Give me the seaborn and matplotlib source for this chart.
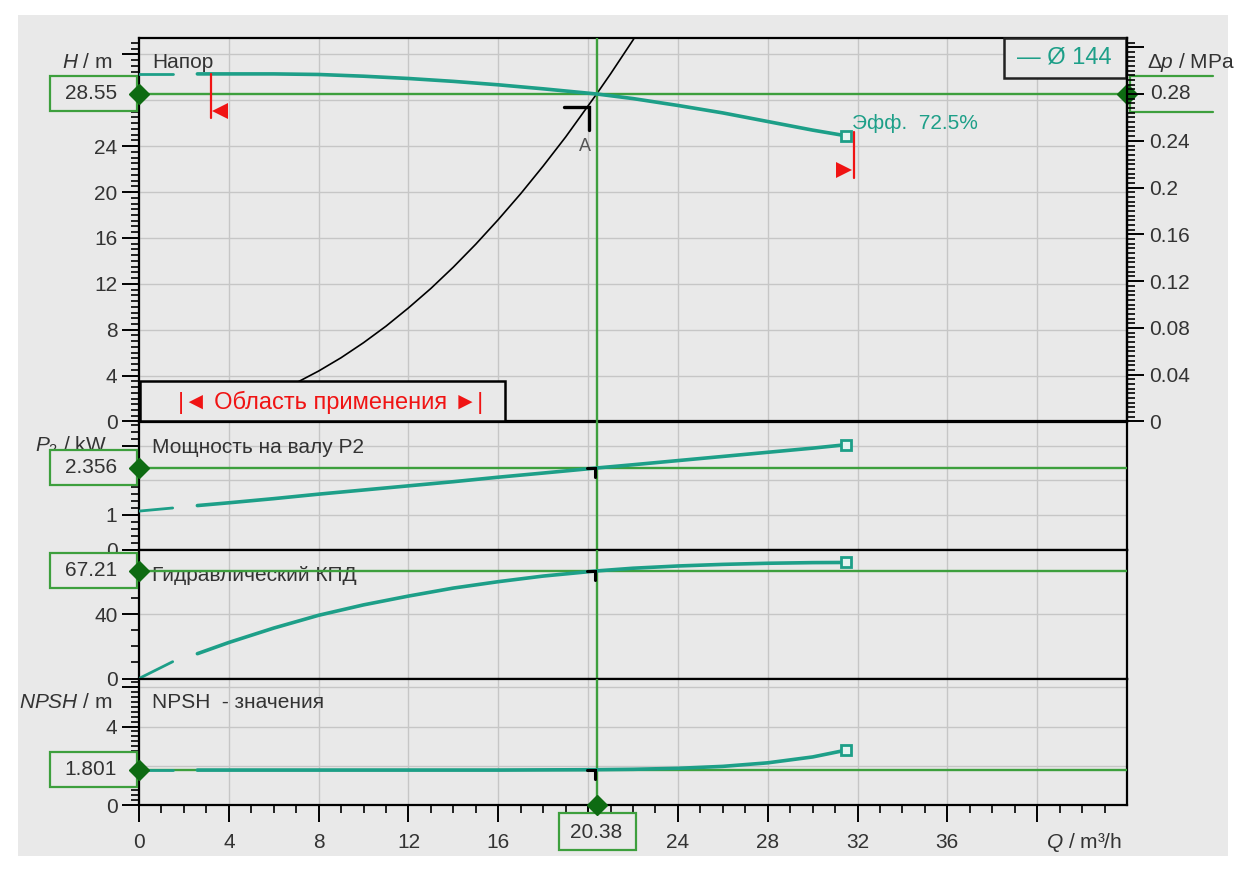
import numpy as np
import pandas as pd
import matplotlib
matplotlib.use("Agg")
import matplotlib.pyplot as plt
import seaborn as sns
from matplotlib.patches import Rectangle
from matplotlib.ticker import FixedLocator, MultipleLocator, FuncFormatter

sns.set_theme(style="white")
plt.rcParams["font.family"] = ["Liberation Sans", "DejaVu Sans"]
plt.rcParams["mathtext.fontset"] = "custom"
plt.rcParams["mathtext.rm"] = "Liberation Sans"
plt.rcParams["mathtext.it"] = "Liberation Sans:italic"
plt.rcParams["mathtext.bf"] = "Liberation Sans:bold"

# ---- pump characteristic, impeller Ø 144 ----
flow = [0, 1.5, 2.6, 4, 6, 8, 10, 12, 14, 16, 18, 20.38, 22, 24, 26, 28, 30, 31.5]
head = [30.3, 30.3, 30.3, 30.3, 30.3, 30.25, 30.1, 29.9, 29.65, 29.35, 29.0, 28.55,
        28.15, 27.55, 26.9, 26.15, 25.4, 24.9]
power = [1.11, 1.20, 1.27, 1.35, 1.47, 1.60, 1.72, 1.84, 1.96, 2.09, 2.21, 2.356,
         2.45, 2.57, 2.69, 2.81, 2.93, 3.03]
efficiency = [0, 10.5, 15.5, 22.5, 31.5, 39.5, 46, 51.5, 56.5, 60.5, 64, 67.21,
              68.9, 70.3, 71.3, 72.0, 72.4, 72.5]
npsh = [1.78, 1.78, 1.78, 1.78, 1.78, 1.78, 1.78, 1.78, 1.78, 1.78, 1.79, 1.801,
        1.82, 1.87, 1.97, 2.15, 2.45, 2.8]

# system curve
sys_flow = [0, 1, 2, 3, 4, 5, 6, 7, 8, 9, 10, 11, 12, 13, 14, 15, 16, 17, 18, 19,
            20.38, 21, 22, 22.5]
sys_head = [0, 0.07, 0.27, 0.62, 1.1, 1.72, 2.47, 3.37, 4.4, 5.56, 6.87, 8.31, 9.9,
            11.6, 13.46, 15.46, 17.6, 19.86, 22.27, 24.8, 28.55, 30.3, 33.25, 34.8]

# duty point
q_op = 20.38
h_op = 28.55
p_op = 2.356
eta_op = 67.21
npsh_op = 1.801
dp_op = 0.28

# range of application
q_min, q_max = 3.2, 31.85
eff_label = "Эфф.  72.5%"
impeller = "— Ø 144"

x_ticks = list(range(0, 41, 4))
h_ticks = list(range(0, 33, 4))
dp_ticks = [0, 0.04, 0.08, 0.12, 0.16, 0.2, 0.24, 0.28, 0.32]
p_ticks = [0, 1, 2, 3]
eta_ticks = [0, 40, 80]
npsh_ticks = [0, 2, 4, 6]

# ---- style ----
BG = "#e9e9e9"
TEAL = "#1d9f88"
GREEN = "#3d9f3d"
DKGREEN = "#0e6b12"
GRID = "#c6c6c6"
TXT = "#333333"
RED = "#f01414"
FS = 15

W, H = 1245, 871
fig = plt.figure(figsize=(W / 100, H / 100), dpi=100, facecolor="white")
fig.patches.append(Rectangle((18 / W, 1 - 856 / H), (1228 - 18) / W, (856 - 15) / H,
                             transform=fig.transFigure, facecolor=BG,
                             edgecolor="none", zorder=-10))

XL, XR = 139, 1127
rows = [(38, 421.5), (421.5, 549.5), (549.5, 678.5), (678.5, 805)]
axes = []
for top, bot in rows:
    ax = fig.add_axes([XL / W, 1 - bot / H, (XR - XL) / W, (bot - top) / H])
    ax.set_facecolor(BG)
    axes.append(ax)
ax_h, ax_p, ax_e, ax_n = axes

ax_h.set_ylim(0, 33.43)
ax_p.set_ylim(0, 3.7)
ax_e.set_ylim(0, 80.6)
ax_n.set_ylim(0, 6.45)


def only(vals):
    keep = [round(v, 3) for v in vals]
    return FuncFormatter(lambda v, p: f"{v:g}" if round(v, 3) in keep else "")


specs = [
    (ax_h, h_ticks, 0.5, only([0, 4, 8, 12, 16, 20, 24])),
    (ax_p, p_ticks, 0.2, only([0, 1])),
    (ax_e, eta_ticks, 10, only([0, 40])),
    (ax_n, npsh_ticks, 0.25, only([0, 4])),
]
for ax, yt, ym, fmt in specs:
    ax.set_xlim(0, 44)
    ax.xaxis.set_major_locator(FixedLocator(x_ticks))
    ax.xaxis.set_minor_locator(FixedLocator(list(range(0, 44))))
    ax.yaxis.set_major_locator(FixedLocator(yt))
    ax.yaxis.set_minor_locator(MultipleLocator(ym))
    ax.yaxis.set_major_formatter(fmt)
    ax.grid(True, which="major", color=GRID, lw=1.0)
    ax.set_axisbelow(True)
    for s in ax.spines.values():
        s.set_color("black")
        s.set_linewidth(1.6)
    ax.tick_params(axis="y", which="major", direction="out", length=12, width=1.4,
                   color="black", labelsize=FS, labelcolor=TXT, pad=3.5, left=True)
    ax.tick_params(axis="y", which="minor", direction="out", length=6, width=1.2,
                   color="black", left=True)
    if ax is not ax_n:
        ax.tick_params(axis="x", which="both", length=0, labelbottom=False)

ax_n.xaxis.set_major_formatter(FuncFormatter(
    lambda v, p: f"{v:g}" if v not in (20, 40) else ""))
ax_n.tick_params(axis="x", which="major", direction="out", length=12, width=1.4,
                 color="black", labelsize=FS, labelcolor=TXT, pad=8, bottom=True)
ax_n.tick_params(axis="x", which="minor", direction="out", length=6, width=1.2,
                 color="black", bottom=True)

# pressure scale on the right of the head panel
ax_r = ax_h.twinx()
ax_r.set_ylim(0, 33.43 * 0.00981)
ax_r.yaxis.set_major_locator(FixedLocator(dp_ticks))
ax_r.yaxis.set_minor_locator(MultipleLocator(0.004))
ax_r.yaxis.set_major_formatter(only([0, 0.04, 0.08, 0.12, 0.16, 0.2, 0.24]))
ax_r.tick_params(axis="y", which="major", direction="out", length=12, width=1.4,
                 color="black", labelsize=FS, labelcolor=TXT, pad=4)
ax_r.tick_params(axis="y", which="minor", direction="out", length=6, width=1.2,
                 color="black")
for name, s in ax_r.spines.items():
    s.set_visible(name == "right")
    s.set_linewidth(1.6)
    s.set_color("black")
ax_r.grid(False)

# ---- curves ----
df = pd.DataFrame({"Q": flow, "H": head, "P2": power, "eta": efficiency, "NPSH": npsh})
lead, body = df.iloc[:2], df.iloc[2:]
for ax, col in zip(axes, ["H", "P2", "eta", "NPSH"]):
    for part, lw in ((lead, 2.0), (body, 2.6)):
        sns.lineplot(data=part, x="Q", y=col, ax=ax, color=TEAL, lw=lw,
                     estimator=None, sort=False, zorder=4)
    ax.plot(df["Q"].iloc[-1], df[col].iloc[-1], marker="s", ms=7.5, mfc="#e4f4f1",
            mec=TEAL, mew=2, zorder=6, clip_on=False)
    ax.set_xlabel("")
    ax.set_ylabel("")

sns.lineplot(x=sys_flow, y=sys_head, ax=ax_h, color="black", lw=1.2,
             estimator=None, sort=False, zorder=3)
ax_h.set_ylim(0, 33.43)

# duty point lines
for ax, val in zip(axes, [h_op, p_op, eta_op, npsh_op]):
    ax.axvline(q_op, color=GREEN, lw=1.7, zorder=3)
    ax.axhline(val, color=GREEN, lw=1.7, zorder=3)


def to_px(ax, x, y):
    dx, dy = ax.transData.transform((x, y))
    return dx, H - dy


def to_data(ax, xpx, ypx):
    return ax.transData.inverted().transform((xpx, H - ypx))


def fig_rect(ax, x0, y0, x1, y1, **kw):
    r = Rectangle((x0 / W, 1 - y1 / H), (x1 - x0) / W, (y1 - y0) / H,
                  transform=fig.transFigure, clip_on=False, **kw)
    ax.add_patch(r)
    return r


def fig_text(ax, x, y, s, **kw):
    kw.setdefault("fontsize", FS)
    kw.setdefault("color", TXT)
    return ax.text(x / W, 1 - y / H, s, transform=fig.transFigure, clip_on=False, **kw)


def px_line(ax, pts, **kw):
    d = np.array([to_data(ax, px, py) for px, py in pts])
    ax.plot(d[:, 0], d[:, 1], clip_on=False, **kw)


# value boxes on the left with diamonds on the axis
for ax, val, txt in [(ax_h, h_op, "28.55"), (ax_p, p_op, "2.356"),
                     (ax_e, eta_op, "67.21"), (ax_n, npsh_op, "1.801")]:
    _, py = to_px(ax, 0, val)
    fig_rect(ax, 50, py - 17.5, 137, py + 17.5, facecolor=BG, edgecolor=GREEN,
             lw=1.6, zorder=8)
    fig_text(ax, 117, py, txt, ha="right", va="center", zorder=9)
    ax.plot(0, val, marker="D", ms=10, color=DKGREEN, clip_on=False, zorder=10)

# pressure box on the right
_, py = to_px(ax_h, 44, h_op)
px_line(ax_h, [(1213, py - 18), (1130, py - 18), (1130, py + 18), (1213, py + 18)],
        color=GREEN, lw=1.6, zorder=8)
fig_text(ax_h, 1150, py, f"{dp_op:g}", ha="left", va="center", zorder=9)
ax_h.plot(44, h_op, marker="D", ms=10, color=DKGREEN, clip_on=False, zorder=10)

# flow box at the bottom
qx, _ = to_px(ax_n, q_op, 0)
fig_rect(ax_n, qx - 38, 813, qx + 39, 850, facecolor=BG, edgecolor=GREEN, lw=1.6, zorder=8)
fig_text(ax_n, qx, 832, f"{q_op:.2f}", ha="center", va="center", zorder=9)
ax_n.plot(q_op, 0, marker="D", ms=10, color=DKGREEN, clip_on=False, zorder=10)

# duty point marker A
ox, oy = to_px(ax_h, q_op, h_op)
px_line(ax_h, [(ox - 33, oy + 13), (ox - 8, oy + 13), (ox - 8, oy + 36)],
        color="black", lw=2.4, zorder=7, solid_joinstyle="miter")
fig_text(ax_h, ox - 12, oy + 53, "A", ha="center", va="center", fontsize=13,
         color="#555555", zorder=7)
for ax, val in [(ax_p, p_op), (ax_e, eta_op), (ax_n, npsh_op)]:
    ox, oy = to_px(ax, q_op, val)
    px_line(ax, [(ox - 10, oy), (ox - 1.5, oy), (ox - 1.5, oy + 9)],
            color="black", lw=2.2, zorder=7, solid_joinstyle="miter")

# range of application markers
lx, ly = to_px(ax_h, q_min, np.interp(q_min, flow, head))
px_line(ax_h, [(lx, ly), (lx, ly + 44)], color=RED, lw=1.6, zorder=7)
tq, th = to_data(ax_h, lx + 9, ly + 37)
ax_h.plot(tq, th, marker="<", ms=11, color=RED, mew=0, zorder=7)
rx, ry = to_px(ax_h, q_max, head[-1])
px_line(ax_h, [(rx, ry - 4), (rx, ry + 42)], color=RED, lw=1.6, zorder=7)
tq, th = to_data(ax_h, rx - 10, ry + 34)
ax_h.plot(tq, th, marker=">", ms=11, color=RED, mew=0, zorder=7)

ex, ey = to_px(ax_h, flow[-1], head[-1])
fig_text(ax_h, ex + 6, ey - 12, eff_label, ha="left", va="center", color=TEAL, zorder=7)

# application range box
fig_rect(ax_h, 140, 381, 505, 421, facecolor=BG, edgecolor="black", lw=1.8, zorder=8)
fig_text(ax_h, 331, 402, "|◄ Область применения ►|", ha="center", va="center",
         fontsize=17, color=RED, zorder=9)

# impeller legend
fig_rect(ax_h, 1004, 38, 1126, 78, facecolor=BG, edgecolor="#222222", lw=1.8, zorder=8)
fig_text(ax_h, 1064, 58, impeller, ha="center", va="center", fontsize=17,
         color=TEAL, zorder=9)

# panel titles
fig_text(ax_h, 152, 62, "Напор", ha="left", va="center", zorder=2)
fig_text(ax_p, 152, 447, "Мощность на валу P2", ha="left", va="center", zorder=2)
fig_text(ax_e, 152, 575, "Гидравлический КПД", ha="left", va="center", zorder=2)
fig_text(ax_n, 152, 702, "NPSH  - значения", ha="left", va="center", zorder=2)

# axis names
fig_text(ax_h, 113, 62, "$H$ / m", ha="right", va="center")
fig_text(ax_p, 107, 446, "$P_2$ / kW", ha="right", va="center", zorder=2)
fig_text(ax_n, 113, 702, "$NPSH$ / m", ha="right", va="center")
fig_text(ax_h, 1235, 62, r"$\Delta p$ / MPa", ha="right", va="center")
fig_text(ax_n, 1122, 842, "$Q$ / m³/h", ha="right", va="center")

fig.savefig("out.png", dpi=100, facecolor=fig.get_facecolor())
